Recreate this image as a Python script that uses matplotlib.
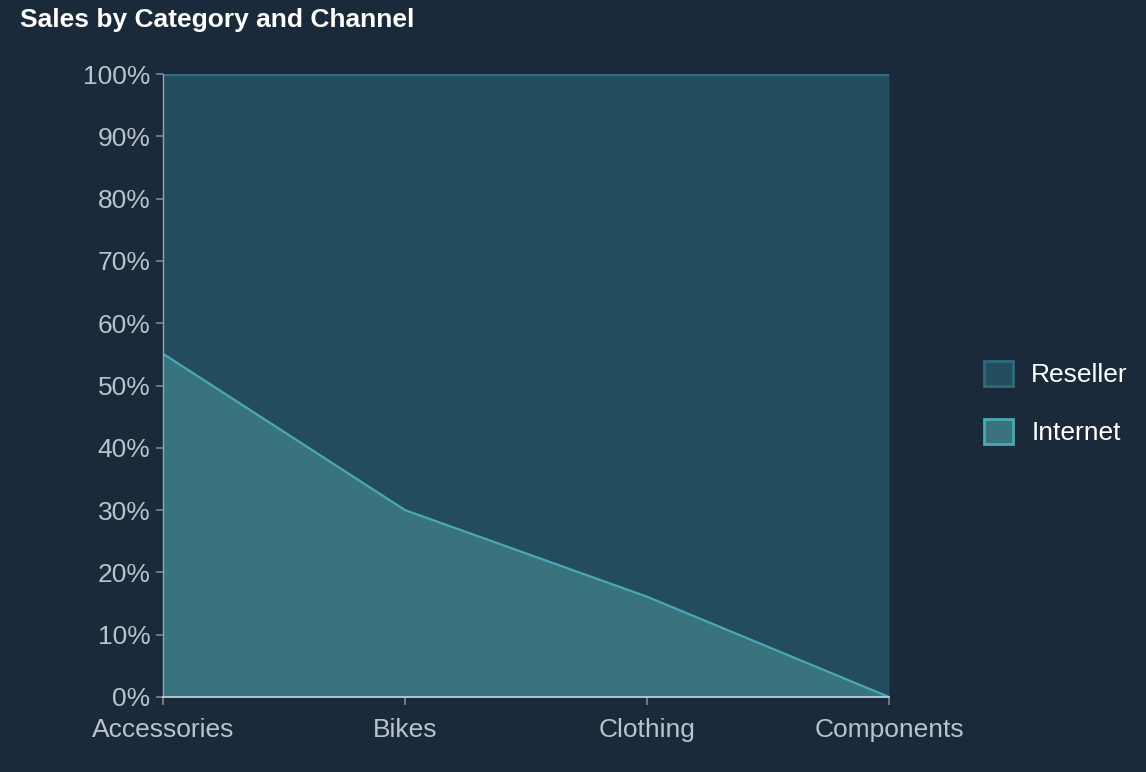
import matplotlib
matplotlib.use("Agg")
import matplotlib.pyplot as plt
from matplotlib.patches import Patch
import numpy as np

categories = ["Accessories", "Bikes", "Clothing", "Components"]
internet = [55.1, 30.0, 16.1, 0.0]
reseller = [44.9, 70.0, 83.9, 100.0]
yticks = [0, 10, 20, 30, 40, 50, 60, 70, 80, 90, 100]

BG = "#1b2a3a"
RES_FILL = "#234d5f"
RES_EDGE = "#2f6a7d"
INT_FILL = "#38737e"
INT_EDGE = "#4aa8b4"
TICK_TXT = "#b9c3cc"
FS = 19

plt.rcParams['font.family'] = ['Liberation Sans', 'DejaVu Sans']

fig = plt.figure(figsize=(11.46, 7.72), dpi=100, facecolor=BG)
W, H = 1146, 772
ax = fig.add_axes([163 / W, (H - 697) / H, 726 / W, 623 / H])
ax.set_facecolor(BG)

x = np.arange(len(categories))
inet = np.array(internet)
res = np.array(reseller)
top = inet + res

ax.fill_between(x, 0, inet, color=INT_FILL, linewidth=0, zorder=2)
ax.fill_between(x, inet, top, color=RES_FILL, linewidth=0, zorder=2)
ax.plot(x, top, color=RES_EDGE, lw=2.5, zorder=3, solid_capstyle='butt')
ax.plot(x, inet, color=INT_EDGE, lw=1.6, zorder=4)

ax.set_xlim(0, len(categories) - 1)
ax.set_ylim(0, 100)
ax.set_xticks(x)
ax.set_xticklabels(categories)
ax.set_yticks(yticks)
ax.set_yticklabels([f"{v}%" for v in yticks])

for s in ["top", "right"]:
    ax.spines[s].set_visible(False)
ax.spines["left"].set_color("#9aa3ab")
ax.spines["left"].set_linewidth(1.0)
ax.spines["bottom"].set_color("#c5d6de")
ax.spines["bottom"].set_linewidth(1.2)
ax.spines["left"].set_zorder(5)
ax.spines["bottom"].set_zorder(5)

ax.tick_params(axis="y", colors="#7f878e", labelcolor=TICK_TXT, labelsize=FS,
               length=5, width=1.2, pad=4)
ax.tick_params(axis="x", colors="#7f878e", labelcolor=TICK_TXT, labelsize=FS,
               length=6, width=1.2, pad=9)

fig.text(20 / W, 1 - 20 / H, "Sales by Category and Channel", color="white",
         fontsize=FS, fontweight="bold", ha="left", va="center")

handles = [Patch(facecolor=RES_FILL, edgecolor=RES_EDGE, linewidth=2, label="Reseller"),
           Patch(facecolor=INT_FILL, edgecolor=INT_EDGE, linewidth=2, label="Internet")]
leg = fig.legend(handles=handles, loc="center left", bbox_to_anchor=(960 / W, 1 - 403 / H),
                 frameon=False, fontsize=FS, labelcolor="white",
                 handlelength=1.1, handleheight=1.1, handletextpad=0.7, labelspacing=1.2)

fig.savefig("out.png", dpi=100, facecolor=BG)
